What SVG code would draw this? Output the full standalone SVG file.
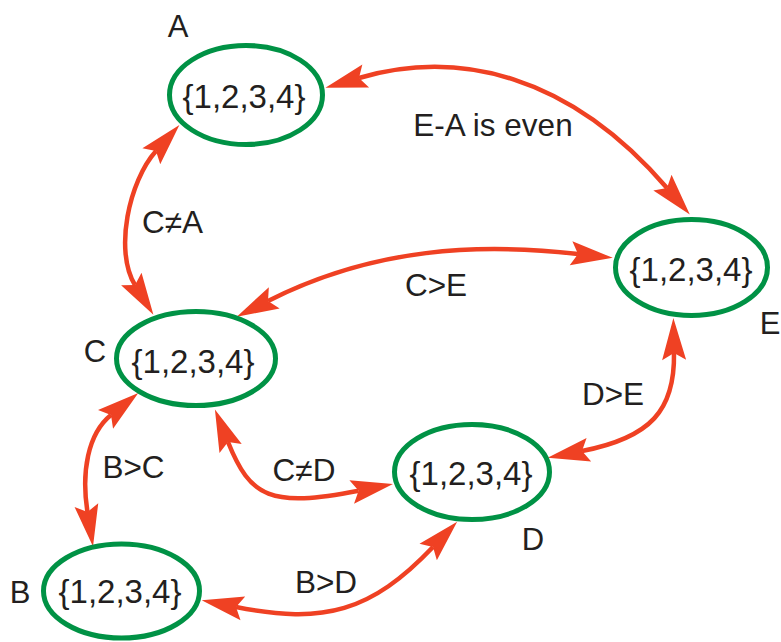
<svg xmlns="http://www.w3.org/2000/svg" width="781" height="642" viewBox="0 0 781 642">
  <style>
    .node ellipse { fill: #ffffff; stroke: #009245; stroke-width: 5; }
    .set { font-family: "Liberation Sans", Arial, sans-serif; font-size: 33px; fill: #231f20; text-anchor: middle; }
    .name { font-family: "Liberation Sans", Arial, sans-serif; font-size: 31px; fill: #231f20; text-anchor: middle; }
    .edge { fill: none; stroke: #ef4123; stroke-width: 4.5; marker-start: url(#head); marker-end: url(#head); }
    .rel { font-family: "Liberation Sans", Arial, sans-serif; font-size: 31.5px; fill: #231f20; text-anchor: middle; }
  </style>
  <defs>
    <!-- barbed arrowhead; reference point sits in the notch -->
    <marker id="head" markerUnits="userSpaceOnUse" markerWidth="60" markerHeight="40" viewBox="-10 -20 60 40" refX="0" refY="0" orient="auto-start-reverse" overflow="visible">
      <path d="M-7,-12 L35,0 L-7,12 L0,0 Z" fill="#ef4123"/>
    </marker>
  </defs>

  <g id="connectors">
    <path id="edge-A-E" class="edge" d="M359,78 C458,49 569,74 667,188"/>
    <path id="edge-A-C" class="edge" d="M156,151 C129,181 114,251 135,285"/>
    <path id="edge-C-E" class="edge" d="M268,301 C375,247 479,243 578,254"/>
    <path id="edge-C-B" class="edge" d="M111,415 C87.6,433.8 81.2,472.5 87.5,512"/>
    <path id="edge-C-D" class="edge" d="M228,442 C250.4,497.6 270.2,508 358.6,490.7"/>
    <path id="edge-E-D" class="edge" d="M674,353 C675,410 651,437.6 582,451"/>
    <path id="edge-B-D" class="edge" d="M236,607 C324,624.5 371,612 433,547"/>
  </g>

  <g id="edge-labels">
    <text class="rel" x="493" y="136">E-A is even</text>
    <text class="rel" x="172.5" y="233">C≠A</text>
    <text class="rel" x="436" y="296">C&gt;E</text>
    <text class="rel" x="613" y="405">D&gt;E</text>
    <text class="rel" x="133.5" y="478">B&gt;C</text>
    <text class="rel" x="304" y="481">C≠D</text>
    <text class="rel" x="326" y="593">B&gt;D</text>
  </g>

  <g id="node-A" class="node">
    <ellipse cx="246" cy="95" rx="76.5" ry="49.5"/>
    <text class="set" x="244" y="108">{1,2,3,4}</text>
    <text class="name" x="178" y="37">A</text>
  </g>
  <g id="node-E" class="node">
    <ellipse cx="691.5" cy="267.5" rx="76" ry="48"/>
    <text class="set" x="691" y="281">{1,2,3,4}</text>
    <text class="name" x="770" y="334">E</text>
  </g>
  <g id="node-C" class="node">
    <ellipse cx="196" cy="358.5" rx="79.5" ry="47"/>
    <text class="set" x="193" y="373">{1,2,3,4}</text>
    <text class="name" x="95" y="362">C</text>
  </g>
  <g id="node-D" class="node">
    <ellipse cx="472" cy="472" rx="77.5" ry="47.5"/>
    <text class="set" x="471" y="485">{1,2,3,4}</text>
    <text class="name" x="533" y="550">D</text>
  </g>
  <g id="node-B" class="node">
    <ellipse cx="121.5" cy="591" rx="78" ry="47"/>
    <text class="set" x="120" y="603">{1,2,3,4}</text>
    <text class="name" x="20" y="603">B</text>
  </g>
</svg>
